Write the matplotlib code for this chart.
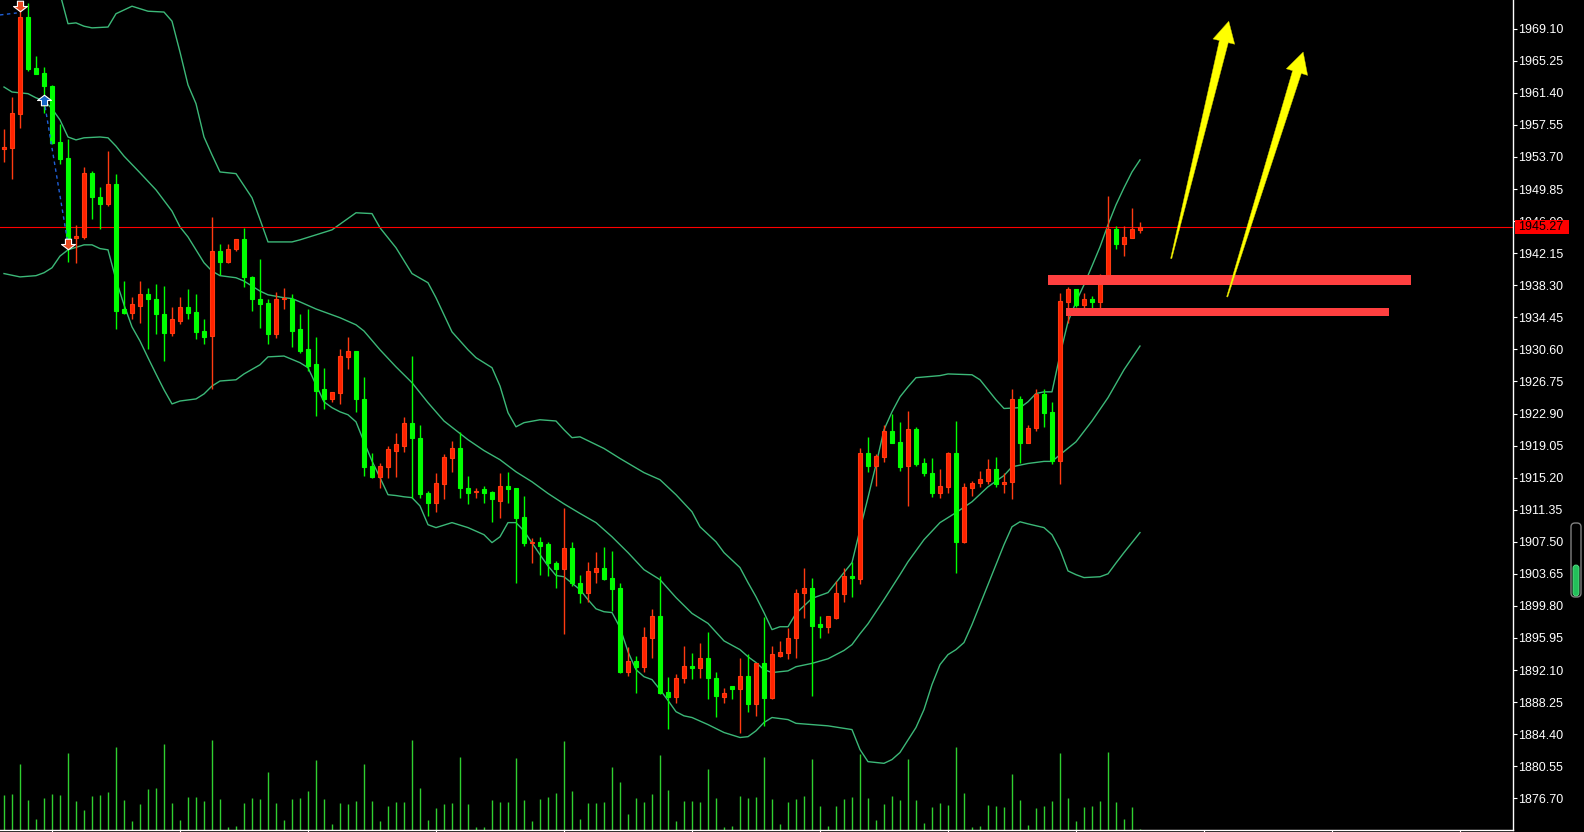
import matplotlib
matplotlib.use("Agg")
import matplotlib.pyplot as plt
import numpy as np
from matplotlib.path import Path
from matplotlib.patches import Rectangle, Polygon, FancyBboxPatch
import matplotlib.transforms as mtransforms

plt.rcParams['font.family'] = ['Liberation Sans', 'DejaVu Sans']

# ---------------- data ----------------
OPEN = [1954.7, 1954.8, 1958.9, 1970.5, 1964.4, 1963.8, 1962.2, 1955.5, 1953.6, 1944.0,
        1944.1, 1951.8, 1948.9, 1948.0, 1950.4, 1935.4, 1935.0, 1935.8, 1937.2, 1936.7,
        1934.9, 1932.6, 1934.0, 1935.7, 1935.1, 1932.8, 1932.2, 1942.4, 1941.1, 1942.7,
        1943.8, 1939.3, 1936.7, 1936.2, 1932.4, 1936.6, 1936.7, 1933.0, 1930.6, 1928.8,
        1925.8, 1924.7, 1925.4, 1929.7, 1930.4, 1924.6, 1916.6, 1915.3, 1916.5, 1918.4,
        1919.0, 1921.7, 1920.0, 1913.3, 1912.2, 1914.4, 1917.6, 1918.8, 1914.0, 1913.5,
        1913.8, 1913.5, 1912.4, 1914.2, 1913.9, 1910.5, 1907.4, 1907.5, 1907.2, 1905.0,
        1904.2, 1906.8, 1902.6, 1901.3, 1903.9, 1904.4, 1903.1, 1901.9, 1891.9, 1893.2,
        1892.5, 1896.0, 1898.6, 1889.5, 1888.9, 1891.1, 1892.6, 1892.4, 1893.6, 1891.2,
        1888.9, 1890.2, 1889.8, 1891.4, 1888.0, 1892.9, 1888.8, 1893.8, 1894.2, 1895.9,
        1901.3, 1902.0, 1897.6, 1897.3, 1898.3, 1901.2, 1903.4, 1903.0, 1918.1, 1916.6,
        1917.7, 1920.8, 1919.5, 1916.6, 1921.0, 1916.9, 1915.8, 1913.3, 1914.1, 1918.2,
        1907.5, 1914.0, 1914.6, 1914.8, 1916.2, 1914.4, 1914.7, 1924.6, 1919.4, 1921.1,
        1925.3, 1923.1, 1917.2, 1936.3, 1937.9, 1935.9, 1936.7, 1936.3, 1938.7, 1945.0,
        1943.2, 1944.0, 1944.95]
HIGH = [1957.1, 1960.9, 1972.2, 1972.2, 1965.8, 1964.5, 1962.4, 1957.7, 1955.9, 1945.5,
        1952.5, 1952.0, 1950.1, 1954.4, 1951.6, 1938.8, 1936.9, 1938.8, 1938.0, 1938.4,
        1938.2, 1935.7, 1936.9, 1937.9, 1937.3, 1934.2, 1946.5, 1943.3, 1943.2, 1943.9,
        1945.2, 1939.4, 1941.4, 1936.6, 1937.5, 1938.0, 1937.3, 1934.8, 1935.5, 1932.1,
        1928.4, 1925.5, 1930.6, 1932.1, 1930.4, 1927.3, 1918.1, 1916.9, 1919.0, 1920.5,
        1922.5, 1929.8, 1921.5, 1913.6, 1915.8, 1918.0, 1919.6, 1920.7, 1915.4, 1913.9,
        1914.2, 1913.6, 1915.7, 1915.9, 1914.0, 1913.0, 1908.0, 1908.1, 1907.5, 1905.2,
        1911.5, 1907.5, 1903.5, 1905.1, 1906.3, 1906.9, 1906.4, 1902.6, 1894.9, 1893.8,
        1897.3, 1899.4, 1903.4, 1891.3, 1891.6, 1895.0, 1894.1, 1895.3, 1896.7, 1891.9,
        1889.9, 1890.2, 1893.5, 1894.0, 1893.0, 1898.5, 1895.0, 1895.6, 1897.1, 1901.8,
        1904.3, 1903.2, 1898.6, 1898.6, 1902.8, 1904.4, 1905.1, 1918.7, 1920.1, 1918.0,
        1921.5, 1922.9, 1921.9, 1923.2, 1921.3, 1917.6, 1917.5, 1916.2, 1918.3, 1922.0,
        1914.6, 1914.8, 1916.0, 1917.4, 1917.7, 1915.7, 1925.9, 1925.0, 1921.5, 1925.8,
        1925.8, 1924.3, 1937.4, 1938.1, 1937.9, 1937.4, 1937.0, 1939.7, 1949.0, 1945.4,
        1945.4, 1947.6, 1945.9]
LOW = [1953.1, 1951.1, 1957.2, 1964.0, 1963.7, 1959.0, 1955.3, 1952.9, 1941.1, 1941.0,
       1943.9, 1946.3, 1945.0, 1947.8, 1933.0, 1934.8, 1934.2, 1933.8, 1930.7, 1932.5,
       1929.2, 1932.2, 1933.7, 1934.2, 1931.9, 1931.2, 1925.9, 1939.5, 1941.0, 1942.4,
       1938.1, 1935.2, 1933.2, 1931.3, 1932.0, 1935.5, 1930.9, 1930.2, 1928.0, 1922.6,
       1923.4, 1924.3, 1924.0, 1928.2, 1923.1, 1915.4, 1915.2, 1913.9, 1915.1, 1915.3,
       1918.3, 1912.8, 1912.7, 1910.6, 1911.1, 1912.6, 1915.9, 1912.8, 1912.0, 1912.7,
       1912.2, 1909.9, 1910.4, 1912.1, 1902.6, 1907.0, 1905.0, 1903.5, 1903.4, 1901.9,
       1896.4, 1902.2, 1900.1, 1900.3, 1902.5, 1902.9, 1899.2, 1891.7, 1891.4, 1889.4,
       1891.9, 1893.5, 1889.2, 1885.0, 1888.2, 1890.5, 1891.0, 1891.2, 1888.6, 1886.5,
       1888.1, 1888.6, 1884.6, 1887.1, 1886.6, 1885.4, 1888.6, 1893.7, 1893.4, 1893.6,
       1898.3, 1889.0, 1896.0, 1896.6, 1898.2, 1900.3, 1900.9, 1902.4, 1915.9, 1914.2,
       1917.1, 1919.3, 1916.0, 1911.8, 1916.6, 1915.4, 1912.9, 1912.7, 1913.3, 1903.8,
       1907.3, 1913.0, 1914.1, 1914.4, 1914.1, 1913.3, 1912.6, 1916.9, 1919.3, 1920.8,
       1921.3, 1916.8, 1914.4, 1933.8, 1935.7, 1935.6, 1935.6, 1935.6, 1938.6, 1942.7,
       1941.8, 1944.0, 1944.6]
CLOSE = [1954.9, 1959.0, 1970.5, 1964.3, 1963.7, 1962.2, 1955.4, 1953.5, 1944.0, 1944.2,
         1951.8, 1948.9, 1948.0, 1950.4, 1935.2, 1935.0, 1936.0, 1937.2, 1936.6, 1934.8,
         1932.6, 1934.2, 1935.7, 1935.0, 1932.7, 1932.1, 1942.4, 1941.1, 1942.7, 1943.8,
         1939.3, 1936.7, 1936.1, 1932.4, 1936.7, 1936.8, 1932.8, 1930.4, 1928.6, 1925.6,
         1924.6, 1925.5, 1929.8, 1930.4, 1924.6, 1916.5, 1915.3, 1916.6, 1918.6, 1919.2,
         1921.7, 1919.9, 1913.2, 1912.2, 1914.5, 1917.7, 1918.8, 1913.9, 1913.4, 1913.6,
         1913.4, 1912.6, 1914.2, 1913.8, 1910.4, 1907.4, 1907.5, 1907.0, 1904.9, 1904.2,
         1906.8, 1902.5, 1901.3, 1904.0, 1904.4, 1903.0, 1901.8, 1891.9, 1893.2, 1892.5,
         1896.1, 1898.6, 1889.4, 1888.9, 1891.2, 1892.6, 1892.4, 1893.6, 1891.1, 1889.0,
         1889.3, 1889.8, 1891.4, 1888.0, 1892.9, 1888.8, 1894.0, 1894.3, 1896.0, 1901.3,
         1902.0, 1897.4, 1897.3, 1898.6, 1901.3, 1903.4, 1903.1, 1918.1, 1916.6, 1917.8,
         1920.8, 1919.4, 1916.5, 1921.0, 1916.8, 1915.7, 1913.3, 1914.2, 1918.2, 1907.5,
         1914.1, 1914.5, 1915.0, 1916.2, 1914.4, 1914.7, 1924.6, 1919.4, 1921.2, 1925.3,
         1923.0, 1917.2, 1936.4, 1937.9, 1935.9, 1936.7, 1936.3, 1938.4, 1945.0, 1943.2,
         1944.1, 1945.1, 1945.27]
VOLUME = [35, 36, 66, 30, 11, 32, 36, 35, 77, 29, 20, 34, 35, 38, 83, 30, 9, 26, 41, 42,
          86, 27, 10, 33, 33, 29, 90, 31, 3, 4, 27, 32, 31, 58, 27, 10, 31, 32, 39, 70,
          31, 6, 27, 26, 29, 66, 29, 9, 24, 28, 28, 90, 42, 10, 22, 26, 27, 73, 26, 3,
          3, 30, 28, 28, 72, 30, 9, 31, 33, 37, 89, 39, 11, 27, 27, 28, 63, 48, 16, 32,
          28, 36, 75, 40, 9, 29, 29, 28, 61, 32, 3, 4, 34, 32, 33, 73, 31, 6, 28, 31,
          34, 71, 24, 4, 24, 31, 33, 76, 32, 10, 26, 34, 30, 71, 30, 7, 23, 27, 25, 83,
          37, 3, 4, 25, 24, 23, 56, 30, 5, 22, 24, 29, 77, 32, 9, 23, 24, 29, 78, 28,
          11, 23, 1]

UPPER_IDX = [0, 7, 8, 9, 10, 11, 13, 14, 16, 18, 20, 21, 22, 23, 24, 25, 26, 27, 29, 31,
             32, 33, 36, 37, 41, 44, 46, 47, 49, 51, 53, 54, 56, 58, 59, 61, 62, 63, 64, 65,
             67, 69, 70, 71, 72, 75, 77, 80, 82, 84, 86, 87, 89, 90, 92, 93, 94, 95, 96, 97,
             98, 99, 101, 103, 106, 107, 108, 109, 110, 111, 112, 113, 114, 117, 118, 121, 122, 123, 124, 125,
             127, 128, 129, 130, 131, 132, 133, 134, 135, 136, 137, 138, 139, 140, 141, 142]
UPPER = [1976.5, 1973.3, 1969.7, 1969.8, 1969.4, 1969.2, 1969.3, 1970.9, 1971.8, 1971.2,
         1971.1, 1970.0, 1966.3, 1962.35, 1960.1, 1956.1, 1953.95, 1951.9, 1951.7, 1948.8,
         1946.2, 1943.5, 1943.5, 1943.75, 1944.95, 1947.0, 1946.9, 1945.2, 1942.8, 1939.7,
         1938.6, 1936.8, 1932.7, 1930.55, 1929.6, 1928.4, 1926.2, 1923.0, 1921.3, 1921.8,
         1922.15, 1922.0, 1920.95, 1920.0, 1920.1, 1918.7, 1917.5, 1915.8, 1914.95, 1913.15,
         1911.1, 1909.3, 1907.5, 1906.2, 1904.4, 1902.6, 1900.9, 1899.0, 1896.95, 1897.3,
         1897.3, 1898.9, 1900.7, 1901.4, 1905.0, 1908.95, 1912.8, 1916.75, 1920.95, 1923.1,
         1924.9, 1926.1, 1927.2, 1927.45, 1927.65, 1927.55, 1926.95, 1925.75, 1924.55, 1923.5,
         1923.6, 1924.3, 1925.3, 1925.5, 1925.5, 1929.95, 1933.9, 1936.3, 1938.35, 1940.6,
         1942.9, 1945.55, 1947.95, 1950.0, 1951.9, 1953.35]

MIDDLE_IDX = [0, 1, 3, 4, 5, 6, 7, 8, 9, 10, 12, 13, 14, 15, 17, 19, 21, 22, 23, 24,
              25, 26, 27, 29, 30, 32, 33, 35, 36, 37, 39, 42, 44, 45, 47, 49, 51, 53, 55, 58,
              60, 62, 64, 66, 68, 70, 72, 74, 76, 78, 80, 82, 84, 86, 88, 90, 92, 93, 94, 95,
              96, 98, 99, 101, 103, 105, 106, 107, 108, 110, 112, 113, 115, 117, 119, 121, 123, 125, 126, 128,
              130, 131, 132, 134, 136, 138, 140, 142]
MIDDLE = [1962.1, 1961.5, 1961.3, 1960.8, 1960.45, 1959.5, 1958.15, 1956.1, 1955.75, 1956.0,
          1956.1, 1956.0, 1955.0, 1953.8, 1951.8, 1949.75, 1947.2, 1945.3, 1944.1, 1942.55,
          1941.0, 1940.0, 1939.45, 1939.2, 1938.8, 1937.6, 1937.15, 1936.8, 1936.7, 1936.3,
          1935.45, 1934.4, 1933.55, 1932.8, 1930.55, 1928.5, 1926.6, 1924.2, 1922.0, 1919.75,
          1918.45, 1917.35, 1915.9, 1914.7, 1913.3, 1912.05, 1910.9, 1909.8, 1908.1, 1906.2,
          1904.15, 1902.95, 1900.8, 1898.9, 1897.7, 1895.6, 1894.55, 1893.7, 1893.0, 1892.15,
          1891.8, 1892.0, 1892.5, 1892.9, 1893.45, 1894.45, 1895.15, 1896.45, 1897.65, 1900.55,
          1903.55, 1905.1, 1907.75, 1909.8, 1911.0, 1912.3, 1914.1, 1915.45, 1916.5, 1916.9,
          1917.15, 1917.15, 1917.95, 1919.5, 1922.0, 1924.8, 1928.15, 1931.0]

LOWER_IDX = [0, 2, 4, 5, 6, 7, 8, 10, 11, 12, 13, 14, 15, 16, 17, 18, 19, 20, 21, 22,
             24, 25, 26, 27, 29, 30, 32, 33, 35, 37, 38, 39, 40, 41, 42, 43, 44, 45, 46, 47,
             48, 49, 50, 51, 52, 53, 54, 56, 58, 60, 61, 62, 63, 64, 65, 67, 68, 69, 70, 72,
             73, 74, 75, 76, 77, 78, 79, 80, 81, 82, 83, 84, 85, 86, 88, 90, 92, 93, 94, 95,
             96, 98, 99, 103, 106, 107, 108, 110, 111, 112, 114, 115, 116, 117, 118, 119, 120, 121, 122, 123,
             124, 125, 126, 127, 128, 130, 131, 132, 133, 134, 135, 137, 138, 139, 140, 142]
LOWER = [1939.7, 1939.3, 1939.45, 1939.8, 1940.4, 1941.8, 1942.55, 1943.15, 1943.15, 1942.7,
         1942.55, 1938.95, 1935.95, 1933.3, 1931.6, 1929.6, 1927.65, 1925.75, 1924.05, 1924.4,
         1924.65, 1925.25, 1926.2, 1926.8, 1926.95, 1927.65, 1928.75, 1929.7, 1929.8, 1929.0,
         1928.4, 1926.35, 1924.3, 1923.6, 1923.1, 1922.75, 1921.9, 1919.5, 1917.2, 1915.2,
         1913.15, 1913.05, 1912.9, 1912.8, 1911.8, 1909.55, 1909.2, 1909.8, 1909.2, 1908.35,
         1907.4, 1908.1, 1909.8, 1909.8, 1908.8, 1905.95, 1904.6, 1903.45, 1903.3, 1901.75,
         1900.55, 1899.45, 1899.1, 1899.0, 1897.2, 1894.3, 1892.15, 1891.3, 1890.95, 1889.75,
         1888.45, 1887.1, 1886.6, 1886.4, 1885.55, 1884.6, 1884.0, 1884.1, 1884.8, 1885.8,
         1886.4, 1886.15, 1885.7, 1885.4, 1884.95, 1882.55, 1881.1, 1880.9, 1881.35, 1882.2,
         1885.2, 1887.35, 1890.35, 1892.75, 1893.95, 1894.55, 1895.4, 1897.55, 1899.95, 1902.35,
         1904.75, 1907.15, 1909.3, 1909.9, 1909.65, 1909.2, 1908.35, 1906.55, 1904.0, 1903.55,
         1903.2, 1903.3, 1903.65, 1904.95, 1906.2, 1908.6]

Y_TICKS = [1876.70, 1880.55, 1884.40, 1888.25, 1892.10, 1895.95, 1899.80, 1903.65,
           1907.50, 1911.35, 1915.20, 1919.05, 1922.90, 1926.75, 1930.60, 1934.45,
           1938.30, 1942.15, 1946.00, 1949.85, 1953.70, 1957.55, 1961.40, 1965.25, 1969.10]
TOP_TICK = 1972.95
X_TICK_IDX = [6, 22, 38, 54, 70, 86, 102, 118, 134, 150, 166, 182]
LAST_PRICE = 1945.27

# trade markers: (index, price)
SELL_ARROWS = [(2, 1971.83), (8, 1943.27)]
BUY_ARROWS = [(5, 1960.55)]
TRADE_LINES = [((-0.5, 1970.75), (1.6, 1970.99)), ((5, 1960.55), (8, 1943.27))]

# drawn objects: support zones (idx start, idx end, price low, price high)
ZONES = [(130.5, 175.9, 1938.35, 1939.55), (132.75, 173.1, 1934.63, 1935.59)]
# yellow arrows: (tail idx, tail price, tip idx, tip price)
YELLOW_ARROWS = [(145.9, 1941.5, 153.1, 1970.0), (152.9, 1936.9, 162.4, 1966.3)]

# ---------------- figure ----------------
W, H = 1584, 832
fig = plt.figure(figsize=(W / 100, H / 100), dpi=100, facecolor='black')
ax = fig.add_axes([0, 2 / H, 1512.7 / W, 830 / H])
ax.set_facecolor('black')
ax.set_xlim(-0.5, 188.59)
ax.set_ylim(1872.894, 1972.546)

n = len(OPEN)
idx = np.arange(n)
O = np.array(OPEN); C = np.array(CLOSE); Hh = np.array(HIGH); L = np.array(LOW)
up = C >= O

# volume
VOL_AXIS_MAX = 830.0
blend = mtransforms.blended_transform_factory(ax.transData, ax.transAxes)
ax.vlines(idx, 0, np.array(VOLUME) / VOL_AXIS_MAX, transform=blend,
          color='#2fcf2f', lw=1.0, zorder=1)

# bollinger bands
BB_COL = '#3cb878'
ax.plot(UPPER_IDX, UPPER, color=BB_COL, lw=1.0, zorder=2)
ax.plot(MIDDLE_IDX, MIDDLE, color=BB_COL, lw=1.0, zorder=2)
ax.plot(LOWER_IDX, LOWER, color=BB_COL, lw=1.0, zorder=2)

# current price line
ax.axhline(LAST_PRICE, color='#ff0000', lw=0.8, zorder=2.5)

# candles
RED = '#ff2200'; RED_EDGE = '#ff3a10'; GREEN = '#00ff00'
wick_cols = [RED_EDGE if u else GREEN for u in up]
ax.vlines(idx, L, Hh, colors=wick_cols, lw=1.0, zorder=3)
bottoms = np.minimum(O, C)
heights = np.maximum(np.abs(C - O), 0.1)
ax.bar(idx[up], heights[up], bottom=bottoms[up], width=0.5, color=RED,
       edgecolor=RED_EDGE, linewidth=0.8, zorder=4)
ax.bar(idx[~up], heights[~up], bottom=bottoms[~up], width=0.5, color=GREEN,
       edgecolor=GREEN, linewidth=0.8, zorder=4)

# trade lines & arrows
for (a, b) in TRADE_LINES:
    ax.plot([a[0], b[0]], [a[1], b[1]], color='#2060d8', lw=1.0,
            ls=(0, (2.5, 2.5)), zorder=5)
down_verts = [(-0.22, 0.38), (0.22, 0.38), (0.22, 0.0), (0.5, 0.0), (0.0, -0.38),
              (-0.5, 0.0), (-0.22, 0.0), (-0.22, 0.38)]
down_path = Path(down_verts, closed=True)
up_path = Path([(x, -y) for x, y in down_verts], closed=True)
for (i, p) in SELL_ARROWS:
    ax.plot([i], [p], marker=down_path, markersize=10, markerfacecolor='#e84a22',
            markeredgecolor='white', markeredgewidth=0.8, zorder=6, clip_on=False)
for (i, p) in BUY_ARROWS:
    ax.plot([i], [p], marker=up_path, markersize=10, markerfacecolor='#1565c8',
            markeredgecolor='white', markeredgewidth=0.8, zorder=6)

# support zones
for (x0, x1, y0, y1) in ZONES:
    ax.add_patch(Rectangle((x0, y0), x1 - x0, y1 - y0, facecolor='#ff4040',
                           edgecolor='none', zorder=5))

# yellow arrows (built in pixel space)
ident = mtransforms.IdentityTransform()
for (ti, tp, hi, hp) in YELLOW_ARROWS:
    p0 = ax.transData.transform((ti, tp))
    p1 = ax.transData.transform((hi, hp))
    d = p1 - p0
    u = d / np.hypot(*d)
    nrm = np.array([-u[1], u[0]])
    head_len, head_half, sh_tail, sh_head = 21.0, 11.2, 0.6, 4.6
    base = p1 - u * head_len
    pts = [p0 + nrm * sh_tail, base + nrm * sh_head, base + nrm * head_half, p1,
           base - nrm * head_half, base - nrm * sh_head, p0 - nrm * sh_tail]
    fig.add_artist(Polygon(pts, closed=True, transform=ident, facecolor='#ffff00',
                           edgecolor='#c8c800', lw=0.3, zorder=6))

# axes styling
for s in ['top', 'left']:
    ax.spines[s].set_visible(False)
for s in ['right', 'bottom']:
    ax.spines[s].set_color('white')
    ax.spines[s].set_linewidth(1.0)
ax.yaxis.tick_right()
ax.set_yticks(Y_TICKS)
ax.set_yticklabels([f'{v:.2f}' for v in Y_TICKS])
ax.tick_params(axis='y', colors='white', length=3.2, width=0.8, direction='out',
               pad=1.0, labelsize=9)
ax.set_xticks(X_TICK_IDX)
ax.tick_params(axis='x', colors='white', length=1.5, width=0.8, direction='out',
               labelbottom=False)

# partially visible top label
fig.text(1518.5 / W, 1 - (-3.4) / H, f'{TOP_TICK:.2f}', color='white', fontsize=9,
         ha='left', va='center')

# current price tag
fig.add_artist(Rectangle((1515, H - 234), 54, 14, transform=ident,
                         facecolor='#ff0000', edgecolor='none', zorder=5))
fig.text(1518.5 / W, 1 - 227.5 / H, f'{LAST_PRICE:.2f}', color='black', fontsize=9,
         ha='left', va='center', zorder=6)

# scrollbar widget
fig.add_artist(FancyBboxPatch((1571, H - 597), 10, 74, boxstyle='round,pad=0,rounding_size=4',
                              transform=ident, facecolor='black', edgecolor='#808080',
                              lw=1.0, zorder=5))
fig.add_artist(FancyBboxPatch((1573, H - 596), 6, 31, boxstyle='round,pad=0,rounding_size=3',
                              transform=ident, facecolor='#22c05a', edgecolor='#5ee08a',
                              lw=0.6, zorder=6))

fig.savefig('out.png', dpi=100, facecolor='black')
